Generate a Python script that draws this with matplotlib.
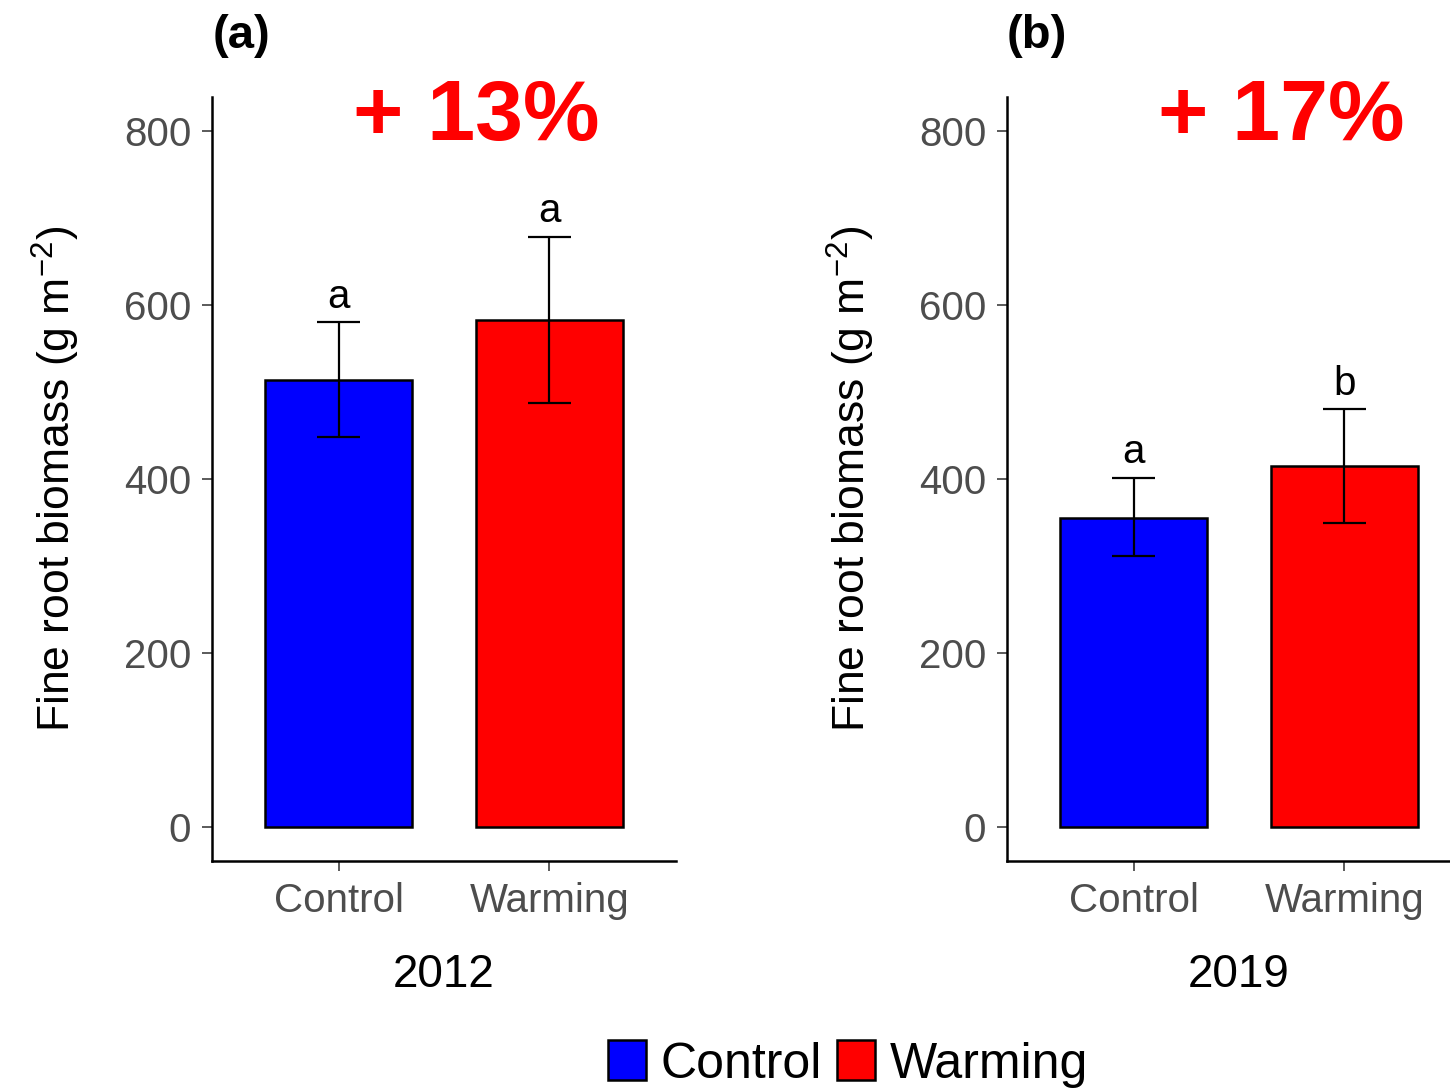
import numpy as np
import matplotlib.pyplot as plt
from matplotlib.patches import Patch

plt.rcParams['font.family'] = ['Liberation Sans', 'DejaVu Sans']
plt.rcParams['mathtext.fontset'] = 'custom'
plt.rcParams['mathtext.rm'] = 'Liberation Sans'
plt.rcParams['mathtext.it'] = 'Liberation Sans:italic'

treatments = ['Control', 'Warming']
colors = ['#0000FF', '#FF0000']

years = ['2012', '2019']
panels = ['(a)', '(b)']
changes = ['+ 13%', '+ 17%']

# mean fine root biomass and error bar limits (g m-2)
means_2012 = [514, 583]
lower_2012 = [448, 487]
upper_2012 = [580, 678]
letters_2012 = ['a', 'a']

means_2019 = [355, 415]
lower_2019 = [311, 349]
upper_2019 = [401, 480]
letters_2019 = ['a', 'b']

W, H = 1450, 1090
fig = plt.figure(figsize=(W / 100, H / 100), dpi=100)

ax_w = 464 / W
ax_h = (861 - 97) / H
lefts = [212 / W, 1007 / W]
bottom = 1 - 861 / H
change_x = [476 / W, 1281 / W]

data = [
    (means_2012, lower_2012, upper_2012, letters_2012),
    (means_2019, lower_2019, upper_2019, letters_2019),
]

for i, (means, lo, hi, letters) in enumerate(data):
    ax = fig.add_axes([lefts[i], bottom, ax_w, ax_h])
    x = np.arange(1, 3)
    means = np.array(means)
    lo = np.array(lo)
    hi = np.array(hi)
    ax.bar(x, means, width=0.7, color=colors, edgecolor='black', linewidth=1.8, zorder=2)
    ax.errorbar(x, means, yerr=[means - lo, hi - means], fmt='none', ecolor='black',
                elinewidth=1.6, capsize=0, zorder=3)
    # caps as short horizontal segments (width 0.2 in category units)
    ax.hlines(np.concatenate([lo, hi]), np.tile(x - 0.1, 2), np.tile(x + 0.1, 2),
              colors='black', linewidth=1.6, zorder=3)
    for xi, top, lab in zip(x, hi, letters):
        ax.text(xi, top + 17, lab, ha='center', va='baseline', fontsize=29)

    ax.set_xlim(0.4, 2.6)
    ax.set_ylim(-39, 839)
    ax.set_yticks([0, 200, 400, 600, 800])
    ax.set_xticks(x)
    ax.set_xticklabels(treatments)
    ax.tick_params(axis='both', labelsize=29, labelcolor='#4D4D4D', color='#4D4D4D',
                   length=7, width=1.3, pad=8)
    for s in ['top', 'right']:
        ax.spines[s].set_visible(False)
    for s in ['left', 'bottom']:
        ax.spines[s].set_linewidth(1.8)
    ax.set_xlabel(years[i], fontsize=33, labelpad=24)
    ax.set_ylabel(r'Fine root biomass (g m$^{-2}$)', fontsize=32)
    ax.yaxis.set_label_coords(-0.336, 0.5)
    ax.yaxis.label.set_va('center')

    fig.text(lefts[i] + 30 / W, 1 - 36 / H, panels[i], fontsize=34, fontweight='bold',
             ha='center', va='center')
    fig.text(change_x[i], 1 - 118 / H, changes[i], fontsize=62, fontweight='bold',
             color='#FF0000', ha='center', va='center')

handles = [Patch(facecolor=c, edgecolor='black', linewidth=1.8) for c in colors]
fig.legend(handles, treatments, loc='center', bbox_to_anchor=(848 / W, 1 - 1064 / H),
           ncol=2, frameon=False, fontsize=36, handlelength=0.75, handleheight=0.85,
           handletextpad=0.3, columnspacing=0.3, borderpad=0)

fig.savefig('out.png', dpi=100)
